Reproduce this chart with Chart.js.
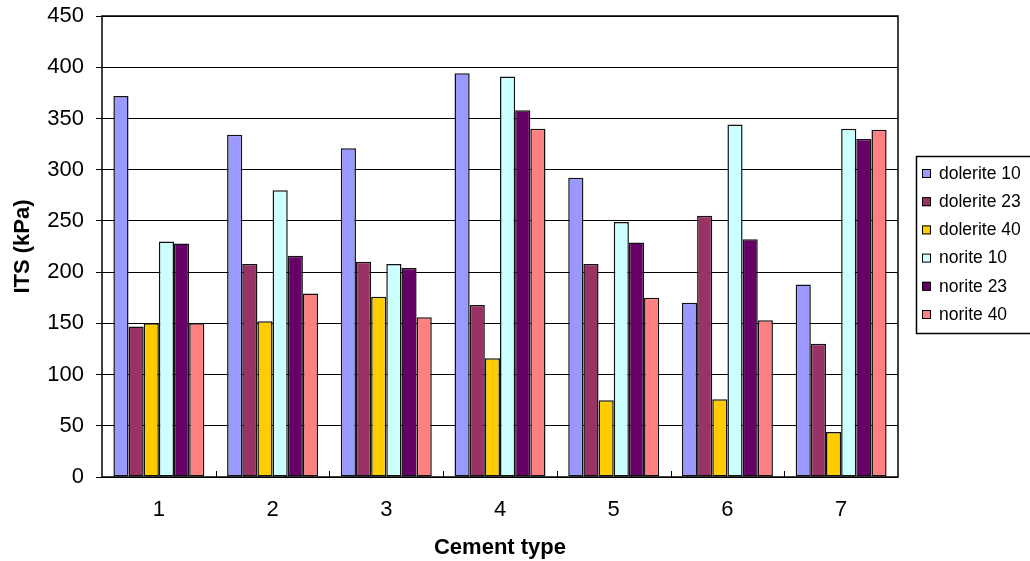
<!DOCTYPE html>
<html>
<head>
<meta charset="utf-8">
<script src="https://cdn.jsdelivr.net/npm/chart.js@4.4.0/dist/chart.umd.min.js"></script>
<style>
  html, body { margin: 0; padding: 0; background: #fff; }
  canvas { display: block; }
</style>
</head>
<body>
<canvas id="itsChart" width="1030" height="561"></canvas>
<script>
// cement types on the x axis
const cementTypes = ['1', '2', '3', '4', '5', '6', '7'];

// ITS values (kPa)
const dolerite10 = [372, 334, 321, 394, 292, 170, 188];
const dolerite23 = [147, 208, 210, 168, 208, 255, 130];
const dolerite40 = [150, 152, 176, 116, 75, 76, 44];
const norite10   = [230, 280, 208, 391, 249, 344, 340];
const norite23   = [228, 216, 204, 358, 229, 232, 330];
const norite40   = [150, 179, 156, 340, 175, 153, 339];

const seriesNames  = ['dolerite 10', 'dolerite 23', 'dolerite 40', 'norite 10', 'norite 23', 'norite 40'];
const seriesColors = ['#9999FF', '#993366', '#FFCC00', '#CCFFFF', '#660066', '#FF8080'];
const seriesData   = [dolerite10, dolerite23, dolerite40, norite10, norite23, norite40];

const FONT = "'Liberation Sans', Arial, sans-serif";

// frame, inner tick marks on the category axis and the boxed legend
const framePlugin = {
  id: 'frame',
  afterDraw(chart) {
    const { ctx, chartArea: a, scales } = chart;
    ctx.save();
    ctx.strokeStyle = '#000';
    ctx.lineWidth = 1.5;
    ctx.strokeRect(a.left, a.top, a.right - a.left, a.bottom - a.top);

    // small tick marks between the groups, pointing up into the plot
    ctx.lineWidth = 1;
    const x = scales.x;
    const step = (a.right - a.left) / cementTypes.length;
    for (let i = 1; i < cementTypes.length; i++) {
      const px = Math.round(x.getPixelForValue(i) - step / 2) + 0.5;
      ctx.beginPath();
      ctx.moveTo(px, a.bottom);
      ctx.lineTo(px, a.bottom - 6);
      ctx.stroke();
    }

    // legend
    ctx.lineWidth = 1.5;
    ctx.strokeRect(916.5, 156.5, 130, 177);
    ctx.font = '17.5px ' + FONT;
    ctx.textBaseline = 'middle';
    chart.data.datasets.forEach((ds, i) => {
      const cy = 174 + i * 28.2;
      ctx.fillStyle = ds.backgroundColor;
      ctx.fillRect(922, cy - 5, 9, 9);
      ctx.lineWidth = 1;
      ctx.strokeStyle = '#000';
      ctx.strokeRect(922.5, cy - 4.5, 8, 8);
      ctx.fillStyle = '#000';
      ctx.fillText(ds.label, 939, cy);
    });
    ctx.restore();
  }
};

new Chart(document.getElementById('itsChart'), {
  type: 'bar',
  data: {
    labels: cementTypes,
    datasets: seriesData.map((d, i) => ({
      label: seriesNames[i],
      data: d,
      backgroundColor: seriesColors[i],
      borderColor: '#111',
      borderWidth: 1.5,
      borderSkipped: false,
      categoryPercentage: 0.8,
      barPercentage: 1.0
    }))
  },
  options: {
    responsive: false,
    animation: false,
    layout: { padding: { left: 10, right: 132, top: 16, bottom: 0 } },
    plugins: {
      legend: { display: false },
      tooltip: { enabled: false }
    },
    scales: {
      x: {
        grid: { display: false },
        border: { display: false },
        ticks: { color: '#000', font: { family: FONT, size: 22 }, padding: 12 },
        title: {
          display: true,
          text: 'Cement type',
          color: '#000',
          font: { family: FONT, size: 22, weight: 'bold' },
          padding: { top: 2, bottom: 0 }
        },
        afterFit(s) { s.height = 561 - 477; s.paddingLeft = 0; s.paddingRight = 0; }
      },
      y: {
        min: 0,
        max: 450,
        ticks: { stepSize: 50, color: '#000', font: { family: FONT, size: 22 }, padding: 12 },
        grid: { color: '#000', lineWidth: 1, tickLength: 6, tickColor: '#000' },
        border: { display: false },
        title: {
          display: true,
          text: 'ITS (kPa)',
          color: '#000',
          font: { family: FONT, size: 22, weight: 'bold' },
          padding: { top: 0, bottom: 0 }
        },
        afterFit(s) { s.width = 92; s.paddingTop = 0; s.paddingBottom = 0; }
      }
    }
  },
  plugins: [framePlugin]
});
</script>
</body>
</html>
